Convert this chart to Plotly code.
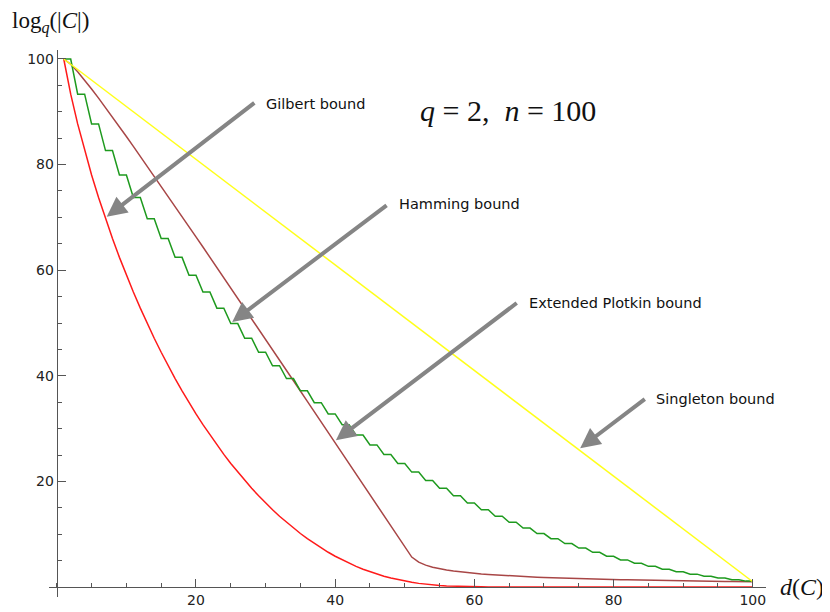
import plotly.graph_objects as go

# code distance d = 1..100
d_values = list(range(1, 101))

# Singleton bound (yellow straight line)
singleton_d = [1, 100]
singleton_log = [100, 1]

# Hamming bound (green, steps)
hamming_log = [100, 100, 93.34, 93.34, 87.70, 87.70, 82.65, 82.65, 78.04, 78.04,
               73.76, 73.76, 69.76, 69.76, 65.99, 65.99, 62.43, 62.43, 59.06, 59.06,
               55.86, 55.86, 52.81, 52.81, 49.89, 49.89, 47.11, 47.11, 44.46, 44.46,
               41.91, 41.91, 39.48, 39.48, 37.15, 37.15, 34.92, 34.92, 32.78, 32.78,
               30.74, 30.74, 28.78, 28.78, 26.91, 26.91, 25.11, 25.11, 23.40, 23.40,
               21.76, 21.76, 20.19, 20.19, 18.70, 18.70, 17.28, 17.28, 15.92, 15.92,
               14.64, 14.64, 13.41, 13.41, 12.26, 12.26, 11.16, 11.16, 10.13, 10.13,
               9.15, 9.15, 8.24, 8.24, 7.38, 7.38, 6.58, 6.58, 5.83, 5.83,
               5.14, 5.14, 4.50, 4.50, 3.91, 3.91, 3.37, 3.37, 2.88, 2.88,
               2.44, 2.44, 2.05, 2.05, 1.70, 1.70, 1.39, 1.39, 1.12, 1.12]

# Gilbert bound (red)
gilbert_log = [100, 93.34, 87.70, 82.65, 78.04, 73.76, 69.76, 65.99, 62.43, 59.06,
               55.86, 52.81, 49.89, 47.11, 44.46, 41.91, 39.48, 37.15, 34.92, 32.78,
               30.74, 28.78, 26.91, 25.11, 23.40, 21.76, 20.19, 18.70, 17.28, 15.92,
               14.64, 13.41, 12.26, 11.16, 10.13, 9.15, 8.24, 7.38, 6.58, 5.83,
               5.14, 4.50, 3.91, 3.37, 2.88, 2.44, 2.05, 1.70, 1.39, 1.12,
               0.89, 0.69, 0.53, 0.40, 0.29, 0.21, 0.15, 0.10, 0.07, 0.04,
               0.03, 0.02, 0.01, 0.0, 0.0, 0.0, 0.0, 0.0, 0.0, 0.0,
               0.0, 0.0, 0.0, 0.0, 0.0, 0.0, 0.0, 0.0, 0.0, 0.0,
               0.0, 0.0, 0.0, 0.0, 0.0, 0.0, 0.0, 0.0, 0.0, 0.0,
               0.0, 0.0, 0.0, 0.0, 0.0, 0.0, 0.0, 0.0, 0.0, 0.0]

# Extended Plotkin bound (brown)
plotkin_log = [100.00, 99.00, 97.58, 96.00, 94.32, 92.58, 90.81, 89.00, 87.17, 85.32,
               83.46, 81.58, 79.70, 77.81, 75.91, 74.00, 72.09, 70.17, 68.25, 66.32,
               64.39, 62.46, 60.52, 58.58, 56.64, 54.70, 52.75, 50.81, 48.86, 46.91,
               44.95, 43.00, 41.04, 39.09, 37.13, 35.17, 33.21, 31.25, 29.29, 27.32,
               25.36, 23.39, 21.43, 19.46, 17.49, 15.52, 13.56, 11.58, 9.61, 7.64,
               5.67, 4.70, 4.14, 3.75, 3.46, 3.22, 3.03, 2.86, 2.71, 2.58,
               2.47, 2.37, 2.28, 2.19, 2.12, 2.04, 1.98, 1.92, 1.86, 1.81,
               1.76, 1.71, 1.67, 1.62, 1.58, 1.55, 1.51, 1.48, 1.45, 1.42,
               1.39, 1.36, 1.33, 1.31, 1.28, 1.26, 1.23, 1.21, 1.19, 1.17,
               1.15, 1.13, 1.11, 1.10, 1.08, 1.06, 1.05, 1.03, 1.01, 1.00]

x_major_ticks = [20, 40, 60, 80, 100]
y_major_ticks = [20, 40, 60, 80, 100]

# labels and arrows (label position, arrow tail, arrow tip)
bound_labels = ["Gilbert bound", "Hamming bound", "Extended Plotkin bound", "Singleton bound"]
label_x = [29.8, 48.9, 67.5, 85.8]
label_y = [91.5, 72.5, 53.8, 35.6]
tail_x = [28.6, 47.6, 66.3, 84.7]
tail_y = [91.9, 72.5, 54.0, 35.8]
tip_x = [7.17, 25.2, 40.1, 75.2]
tip_y = [70.1, 50.2, 27.8, 26.3]

fig = go.Figure()
fig.add_trace(go.Scatter(x=d_values, y=gilbert_log, mode="lines",
                         line=dict(color="#FF1A1A", width=1.5), showlegend=False))
fig.add_trace(go.Scatter(x=d_values, y=plotkin_log, mode="lines",
                         line=dict(color="#A84646", width=1.5), showlegend=False))
fig.add_trace(go.Scatter(x=d_values, y=hamming_log, mode="lines",
                         line=dict(color="#1E9A1E", width=1.5), showlegend=False))
fig.add_trace(go.Scatter(x=singleton_d, y=singleton_log, mode="lines",
                         line=dict(color="#FFFF1A", width=1.5), showlegend=False))

annotations = []
for i in range(len(bound_labels)):
    annotations.append(dict(x=tip_x[i], y=tip_y[i], ax=tail_x[i], ay=tail_y[i],
                            xref="x", yref="y", axref="x", ayref="y", text="",
                            showarrow=True, arrowhead=2, arrowsize=1.0, arrowwidth=4,
                            arrowcolor="#858585", standoff=0, startstandoff=0))
    annotations.append(dict(x=label_x[i], y=label_y[i], xref="x", yref="y",
                            text=bound_labels[i], showarrow=False, xanchor="left",
                            yanchor="middle",
                            font=dict(family="DejaVu Sans", size=14.5, color="#111")))

annotations.append(dict(x=64.8, y=90.3, xref="x", yref="y",
                        text="<i>q</i> = 2,  <i>n</i> = 100", showarrow=False,
                        xanchor="center", yanchor="middle",
                        font=dict(family="Liberation Serif", size=30, color="#111")))
# axis labels placed in paper coordinates (outside the data range)
annotations.append(dict(x=-0.055, y=1.05, xref="paper", yref="paper",
                        text="log<sub><i>q</i></sub>(|<i>C</i>|)", showarrow=False,
                        xanchor="left", yanchor="middle",
                        font=dict(family="Liberation Serif", size=23, color="#111")))
annotations.append(dict(x=1.017, y=0.0183, xref="paper", yref="paper",
                        text="<i>d</i>(<i>C</i>)", showarrow=False,
                        xanchor="left", yanchor="middle",
                        font=dict(family="Liberation Serif", size=24, color="#111")))

axis_color = "#555555"
tick_font = dict(family="DejaVu Sans", size=14, color="#222")
fig.update_layout(
    width=830, height=612,
    # the page body adds an 8px offset, margins compensate for it
    margin=dict(l=41, r=72, t=42, b=23, autoexpand=False),
    paper_bgcolor="white", plot_bgcolor="white",
    xaxis=dict(range=[-1.12, 101.9], anchor="free", position=0.0183,
               automargin=False,
               showline=True, linecolor=axis_color, linewidth=1.3,
               ticks="inside", ticklen=8, tickwidth=1, tickcolor=axis_color,
               tickvals=x_major_ticks, showgrid=False, zeroline=False,
               minor=dict(dtick=5, tick0=0, ticks="inside", ticklen=4,
                          tickcolor=axis_color, showgrid=False),
               tickfont=tick_font),
    yaxis=dict(range=[-1.89, 101.7], anchor="free", position=0.0109,
               automargin=False,
               showline=True, linecolor=axis_color, linewidth=1.3,
               ticks="inside", ticklen=8, tickwidth=1, tickcolor=axis_color,
               tickvals=y_major_ticks, showgrid=False, zeroline=False,
               minor=dict(dtick=5, tick0=0, ticks="inside", ticklen=4,
                          tickcolor=axis_color, showgrid=False),
               tickfont=tick_font),
    annotations=annotations,
)

fig.write_html("out.html")
